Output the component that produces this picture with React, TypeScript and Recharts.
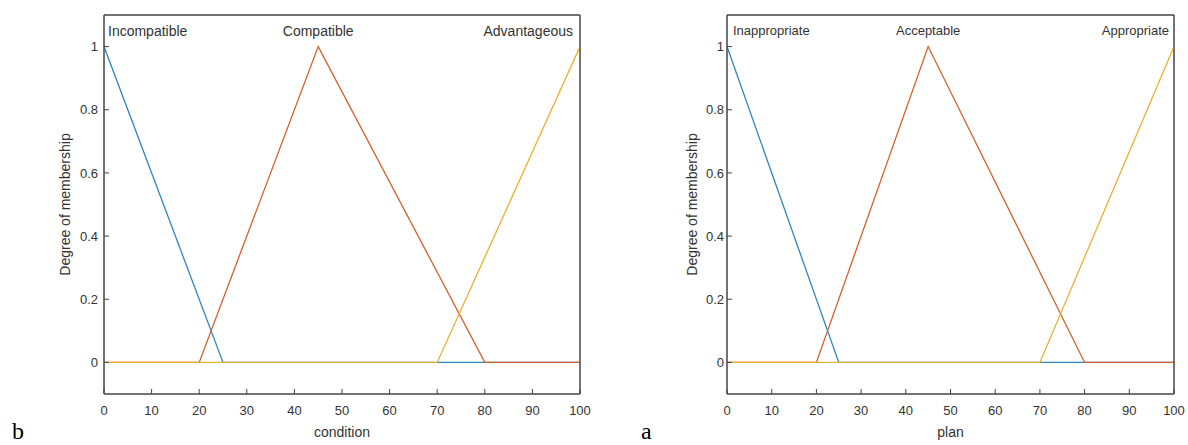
import React from 'react';
import { LineChart, Line, XAxis, YAxis, ReferenceDot, ReferenceArea } from 'recharts';

const xTicks = [0, 10, 20, 30, 40, 50, 60, 70, 80, 90, 100];
const yTicks = [0, 0.2, 0.4, 0.6, 0.8, 1];

const lowX = [0, 25, 100];
const lowY = [1, 0, 0];
const midX = [0, 20, 45, 80, 100];
const midY = [0, 0, 1, 0, 0];
const highX = [0, 70, 100];
const highY = [0, 0, 1];

const leftLabels = ['Incompatible', 'Compatible', 'Advantageous'];
const rightLabels = ['Inappropriate', 'Acceptable', 'Appropriate'];

const BLUE = '#2f86c0';
const ORANGE = '#d4602c';
const YELLOW = '#e9b233';
const AXIS = '#444444';
const TEXT = '#333333';
const FONT = '"Liberation Sans", Arial, sans-serif';

const toRows = (xs: number[], ys: number[]) => xs.map((x, i) => ({ x, y: ys[i] }));

type PanelProps = {
  left: number;
  width: number;
  yAxisWidth: number;
  marginRight: number;
  labels: string[];
  xTitle: string;
  yTitleOffset: number;
  fontSize: number;
  startOffset: number;
  endOffset: number;
  yTickMargin: number;
};

function Panel(p: PanelProps) {
  const fmt = (v: number) => String(v);
  return (
    <div style={{ position: 'absolute', left: p.left, top: 0 }}>
      <LineChart
        width={p.width}
        height={445}
        margin={{ top: 14, right: p.marginRight - 1, bottom: 0, left: 0 }}
        style={{ fontFamily: FONT }}
      >
        <XAxis
          xAxisId="b"
          dataKey="x"
          type="number"
          domain={[0, 100]}
          ticks={xTicks}
          allowDataOverflow
          height={51}
          tickSize={-5}
          tickMargin={17}
          stroke={AXIS}
          axisLine={{ stroke: AXIS }}
          tickLine={{ stroke: AXIS }}
          tick={{ fill: TEXT, fontSize: 13 }}
          label={{ value: p.xTitle, position: 'insideBottom', offset: 8, fill: TEXT, fontSize: 14 }}
        />
        <XAxis
          xAxisId="t"
          dataKey="x"
          type="number"
          orientation="top"
          domain={[0, 100]}
          ticks={xTicks}
          allowDataOverflow
          height={1}
          tickSize={-5}
          tick={false}
          stroke={AXIS}
          axisLine={{ stroke: AXIS }}
          tickLine={{ stroke: AXIS }}
        />
        <YAxis
          yAxisId="l"
          type="number"
          domain={[-0.1, 1.1]}
          ticks={yTicks}
          allowDataOverflow
          width={p.yAxisWidth}
          tickSize={-5}
          tickMargin={p.yTickMargin}
          tickFormatter={fmt}
          stroke={AXIS}
          axisLine={{ stroke: AXIS }}
          tickLine={{ stroke: AXIS }}
          tick={{ fill: TEXT, fontSize: 13 }}
          label={{
            value: 'Degree of membership',
            angle: -90,
            position: 'insideLeft',
            offset: p.yTitleOffset,
            fill: TEXT,
            fontSize: 14,
            style: { textAnchor: 'middle' },
          }}
        />
        <YAxis
          yAxisId="r"
          type="number"
          orientation="right"
          domain={[-0.1, 1.1]}
          ticks={yTicks}
          allowDataOverflow
          width={1}
          tickSize={-5}
          tick={false}
          stroke={AXIS}
          axisLine={{ stroke: AXIS }}
          tickLine={{ stroke: AXIS }}
        />
        <ReferenceArea xAxisId="b" yAxisId="l" x1={0} x2={100} y1={-0.1} y2={1.1}
          fill="none" fillOpacity={0} stroke={AXIS} strokeWidth={1} ifOverflow="visible" />
        <Line data={toRows(lowX, lowY)} dataKey="y" xAxisId="b" yAxisId="l" stroke={BLUE} strokeWidth={1.3} dot={false} isAnimationActive={false} />
        <Line data={toRows(midX, midY)} dataKey="y" xAxisId="b" yAxisId="l" stroke={ORANGE} strokeWidth={1.3} dot={false} isAnimationActive={false} />
        <Line data={toRows(highX, highY)} dataKey="y" xAxisId="b" yAxisId="l" stroke={YELLOW} strokeWidth={1.3} dot={false} isAnimationActive={false} />
        <ReferenceDot xAxisId="b" yAxisId="l" x={0} y={1.05} r={0} fill="none" stroke="none"
          label={{ value: p.labels[0], position: 'right', offset: p.startOffset, fill: TEXT, fontSize: p.fontSize }} />
        <ReferenceDot xAxisId="b" yAxisId="l" x={45} y={1.05} r={0} fill="none" stroke="none"
          label={{ value: p.labels[1], position: 'center', fill: TEXT, fontSize: p.fontSize }} />
        <ReferenceDot xAxisId="b" yAxisId="l" x={100} y={1.05} r={0} fill="none" stroke="none"
          label={{ value: p.labels[2], position: 'left', offset: p.endOffset, fill: TEXT, fontSize: p.fontSize }} />
      </LineChart>
    </div>
  );
}

export default function App() {
  return (
    <div style={{ position: 'absolute', left: 0, top: 0, width: 1188, height: 445, background: '#fff', overflow: 'hidden' }}>
      <Panel left={0} width={600} yAxisWidth={104} marginRight={20} labels={leftLabels} xTitle="condition"
        yTitleOffset={65} fontSize={14} startOffset={4} endOffset={7} yTickMargin={11} />
      <Panel left={600} width={588} yAxisWidth={127} marginRight={14} labels={rightLabels} xTitle="plan"
        yTitleOffset={92} fontSize={13} startOffset={6} endOffset={5} yTickMargin={8} />
      <svg width={1188} height={445} style={{ position: 'absolute', left: 0, top: 0, pointerEvents: 'none' }}>
        <text x={12} y={439} fontSize={24} fontFamily='"Liberation Serif", "Times New Roman", serif' fill="#000">b</text>
        <text x={641} y={439} fontSize={24} fontFamily='"Liberation Serif", "Times New Roman", serif' fill="#000">a</text>
      </svg>
    </div>
  );
}
